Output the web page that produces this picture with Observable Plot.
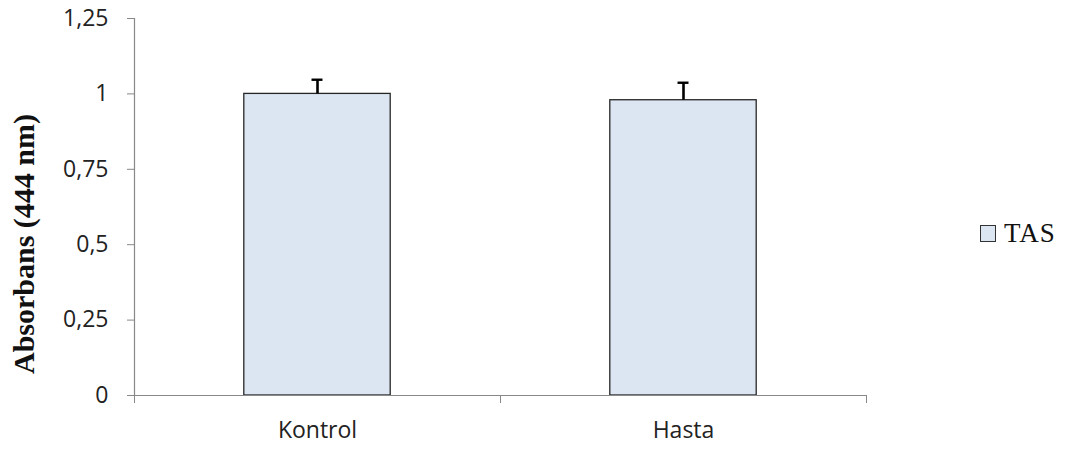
<!DOCTYPE html>
<html>
<head>
<meta charset="utf-8">
<script src="https://cdn.jsdelivr.net/npm/d3@7"></script>
<script src="https://cdn.jsdelivr.net/npm/@observablehq/plot@0.6"></script>
<style>
  html, body { margin: 0; padding: 0; background: #ffffff; }
  #chart { position: relative; width: 1066px; height: 456px; }
  #legend { position: absolute; left: 980px; top: 218px; display: flex; align-items: center;
            font-family: "Liberation Serif", "Times New Roman", serif; font-size: 27px; color: #111; letter-spacing: 1px; }
  #legend .sw { width: 14px; height: 15px; background: #dce6f2; border: 1px solid #333; margin-right: 8px; }
</style>
</head>
<body>
<div id="chart"><div id="legend"></div></div>
<script>
const categories = ["Kontrol", "Hasta"];
const seriesName = "TAS";
const values = [1.0, 0.979];
const errors = [0.047, 0.058];
const yTicks = [0, 0.25, 0.5, 0.75, 1, 1.25];
const yLabel = "Absorbans (444 nm)";

const data = categories.map((c, i) => ({
  cat: c, i, value: values[i], err: errors[i],
  x1: i + 0.3, x2: i + 0.7, mid: i + 0.5,
  capL: i + 0.485, capR: i + 0.515
}));

const fmt = d => String(d).replace(".", ",");

const plot = Plot.plot({
  width: 1066,
  height: 456,
  marginLeft: 134,
  marginRight: 200,
  marginTop: 18,
  marginBottom: 61,
  style: { fontFamily: "'Open Sans', sans-serif", fontSize: "23px", color: "#222", background: "#fff" },
  x: { domain: [0, categories.length], axis: null },
  y: { domain: [0, 1.25], axis: null },
  marks: [
    Plot.rectY(data, { x1: "x1", x2: "x2", y1: 0, y2: "value", fill: "#dce6f2", stroke: "#262626", strokeWidth: 1.3 }),
    Plot.ruleX(data, { x: "mid", y1: "value", y2: d => d.value + d.err, stroke: "#000", strokeWidth: 2.6 }),
    Plot.ruleY(data, { x1: "capL", x2: "capR", y: d => d.value + d.err, stroke: "#000", strokeWidth: 2.4 }),
    Plot.axisY({ ticks: yTicks, tickFormat: fmt, tickSize: 7, tickPadding: 19, stroke: "#888", fontSize: 23, fill: "#222", label: null }),
    Plot.ruleX([0], { stroke: "#888", strokeWidth: 1.2 }),
    Plot.ruleY([0], { stroke: "#888", strokeWidth: 1.2 }),
    Plot.axisX({ ticks: d3.range(categories.length + 1), tickSize: 8, tickFormat: () => "", stroke: "#888", label: null }),
    Plot.text(data, { x: "mid", text: "cat", frameAnchor: "bottom", dy: 42, fontSize: 23, fill: "#222" }),
    Plot.text([yLabel], { frameAnchor: "left", textAnchor: "middle", lineAnchor: "middle", rotate: -90, dx: -110, dy: 37, fontSize: 30, fontWeight: "bold",
      fontFamily: "'Liberation Serif', 'Times New Roman', serif", fill: "#111" })
  ]
});

document.getElementById("chart").prepend(plot);

const lg = document.getElementById("legend");
lg.innerHTML = '<div class="sw"></div><span></span>';
lg.querySelector("span").textContent = seriesName;
</script>
</body>
</html>
